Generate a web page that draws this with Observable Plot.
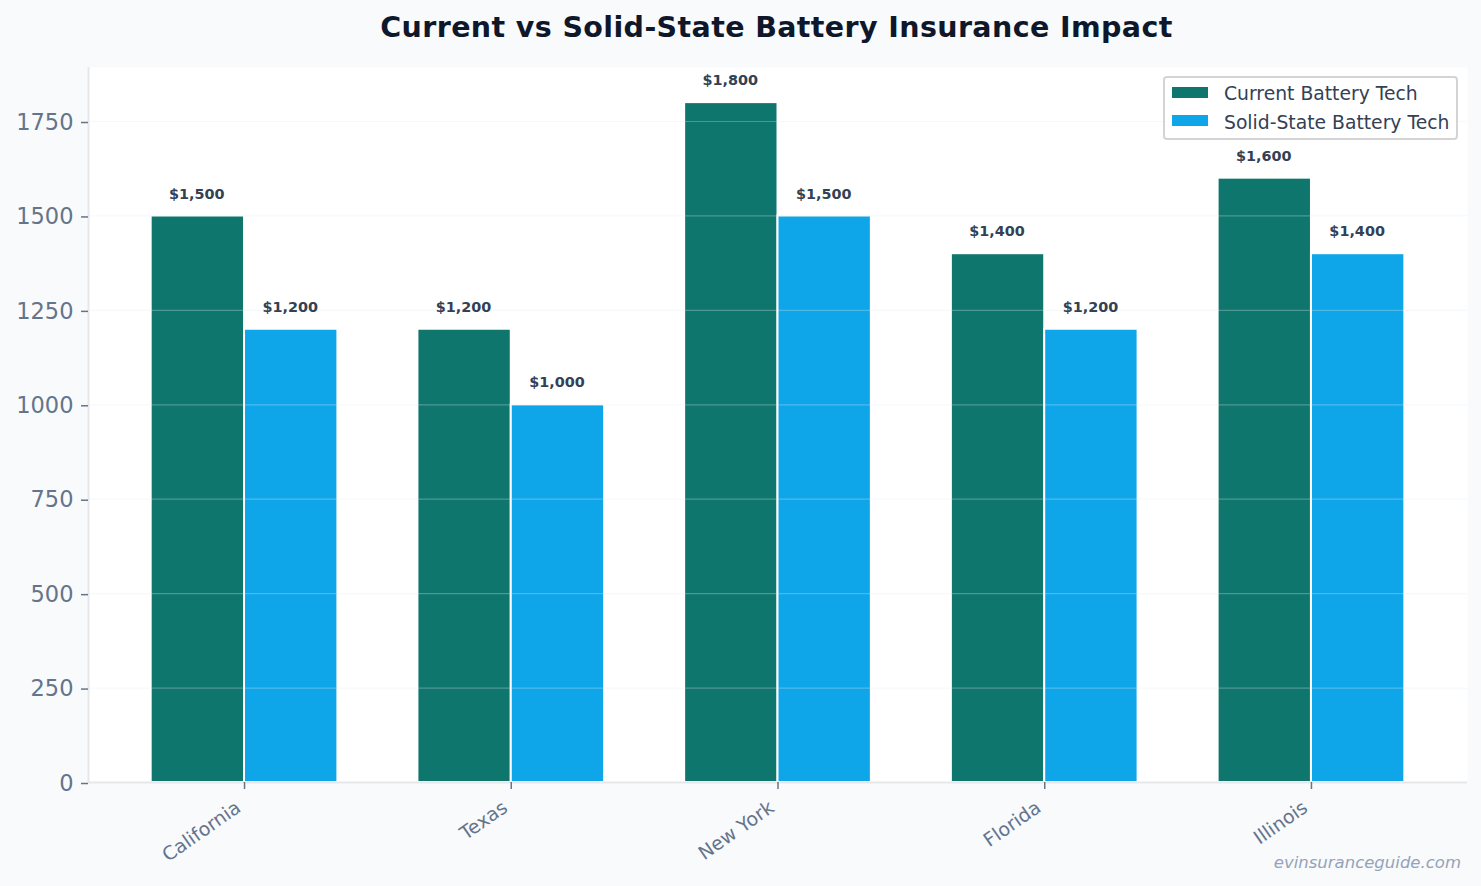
<!DOCTYPE html>
<html><head><meta charset="utf-8">
<script src="https://cdn.jsdelivr.net/npm/d3@7"></script>
<script src="https://cdn.jsdelivr.net/npm/@observablehq/plot@0.6"></script>
<style>
html,body{margin:0;padding:0;background:#f8fafc;width:1481px;height:886px;overflow:hidden;font-family:"DejaVu Sans",sans-serif;position:relative}
h1{margin:0;height:67px;width:1553px;box-sizing:border-box;padding-top:10px;text-align:center;font-size:28.5px;line-height:36px;font-weight:700;color:#0f172a;letter-spacing:.38px;white-space:nowrap}
#legend{position:absolute;left:1163px;top:76px;width:295px;height:64px;box-sizing:border-box;background:rgba(255,255,255,.85);border:2px solid #d4d4d4;border-radius:4px;font-size:18.75px;color:#334155}
#legend div{position:absolute;left:59px;white-space:nowrap;line-height:28px}
#legend i{position:absolute;left:7px;width:36px;height:11px}
#credit{position:absolute;right:20px;bottom:14px;font-size:16.5px;font-style:italic;color:#94a3b8}
svg{display:block}
</style></head><body>
<h1>Current vs Solid-State Battery Insurance Impact</h1>
<div id="chart"></div>
<div id="legend"></div>
<div id="credit">evinsuranceguide.com</div>
<script>
const states = ["California","Texas","New York","Florida","Illinois"];
const seriesNames = ["Current Battery Tech","Solid-State Battery Tech"];
const currentTech = [1500,1200,1800,1400,1600];
const solidStateTech = [1200,1000,1500,1200,1400];
const yTicks = [0,250,500,750,1000,1250,1500,1750];
const colors = ["#0f766e","#0ea5e9"];
const barWidth = 0.35;

const rows = states.flatMap((state,i)=>[
  {i,series:seriesNames[0],value:currentTech[i],x1:i-barWidth,x2:i},
  {i,series:seriesNames[1],value:solidStateTech[i],x1:i,x2:i+barWidth}
]);
const xTicks = states.map((d,i)=>i);

const plot = Plot.plot({
  width:1481,height:819,
  marginLeft:88,marginRight:14,marginTop:0,marginBottom:104,
  style:{background:"transparent",fontFamily:"DejaVu Sans"},
  x:{type:"linear",domain:[-0.585,4.585],axis:null},
  y:{domain:[0,1893],axis:null},
  color:{domain:seriesNames,range:colors},
  marks:[
    Plot.frame({fill:"#ffffff",stroke:"none"}),
    Plot.rectY(rows,{x1:"x1",x2:"x2",y:"value",fill:"series",stroke:"#ffffff",strokeWidth:2}),
    Plot.ruleY(yTicks.filter(d=>d>0),{stroke:"#e2e8f0",strokeOpacity:.3,strokeWidth:1.2}),
    Plot.text(rows,{x:d=>(d.x1+d.x2)/2,y:"value",text:d=>"$"+d3.format(",")(d.value),dx:-1,dy:-22,fontSize:14.4,fontWeight:700,fill:"#334155"}),
    Plot.ruleX([-0.585],{stroke:"#e5e7eb",strokeWidth:2}),
    Plot.ruleY([0],{stroke:"#e5e7eb",strokeWidth:2}),
    Plot.axisY({ticks:yTicks,tickFormat:"d",tickSize:7,tickPadding:8,fontSize:22.5,dy:1,color:"#64748b",stroke:"#64748b",strokeWidth:1.5,label:null}),
    // tick marks only
    Plot.axisX({ticks:xTicks,anchor:"bottom",tickSize:7,fill:"none",stroke:"#64748b",strokeWidth:1.5,label:null}),
    // rotated labels only, nudged away from the ticks
    Plot.axisX({ticks:xTicks,tickFormat:i=>states[i],anchor:"bottom",tickSize:0,tickPadding:13,tickRotate:-35,fontSize:19,dx:-6,dy:10,fill:"#64748b",label:null})
  ]
});
document.getElementById("chart").append(plot);

const legend = document.getElementById("legend");
seriesNames.forEach((name,i)=>{
  const sw=document.createElement("i");
  sw.style.background=colors[i];sw.style.top=(9+28*i)+"px";
  const t=document.createElement("div");
  t.textContent=name;t.style.top=(2+28.5*i)+"px";
  legend.append(sw,t);
});
</script>
</body></html>
